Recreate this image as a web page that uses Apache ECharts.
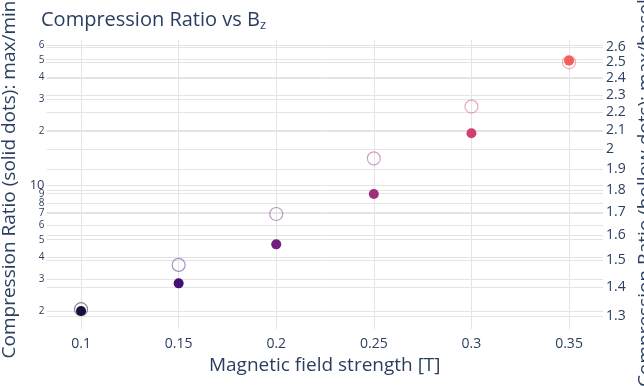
<!DOCTYPE html>
<html>
<head>
<meta charset="utf-8">
<script src="https://cdn.jsdelivr.net/npm/echarts@6/dist/echarts.min.js"></script>
<style>
  html, body { margin: 0; padding: 0; background: #ffffff; }
  #chart { width: 644px; height: 386px; }
</style>
</head>
<body>
<div id="chart"></div>
<script>
// Magnetic field strength (T)
const fieldStrength = [0.1, 0.15, 0.2, 0.25, 0.3, 0.35];
// Compression ratio max/min (solid dots, left log axis)
const ratioMaxMin = [2.01, 2.86, 4.71, 8.97, 19.5, 49.4];
// Compression ratio max/baseline (hollow dots, right log axis)
const ratioMaxBaseline = [1.323, 1.483, 1.691, 1.952, 2.231, 2.501];
// Marker colours per field strength (magma)
const pointColors = ['#180f3d', '#440f76', '#721f81', '#9e2f7f', '#cd4071', '#f1605d'];
const ringColors = ['rgba(24,15,61,0.5)', 'rgba(68,15,118,0.45)', 'rgba(114,31,129,0.45)',
                    'rgba(158,47,127,0.45)', 'rgba(205,64,113,0.45)', 'rgba(241,96,93,0.5)'];

// Tick values
const xTicks = [0.1, 0.15, 0.2, 0.25, 0.3, 0.35];
const leftTicks = [2, 3, 4, 5, 6, 7, 8, 9, 10, 20, 30, 40, 50, 60];
const rightTicks = [1.3, 1.4, 1.5, 1.6, 1.7, 1.8, 1.9, 2.0, 2.1, 2.2, 2.3, 2.4, 2.5, 2.6];

const textColor = '#2a3f5f';
const gridColor = '#e4e4e4';
const fontFamily = '"Open Sans", sans-serif';

const chart = echarts.init(document.getElementById('chart'), null, { renderer: 'canvas' });

chart.setOption({
  backgroundColor: '#ffffff',
  animation: false,
  textStyle: { fontFamily: fontFamily, color: textColor },
  title: {
    text: '{a|Compression Ratio vs B}{s|z}',
    left: 36,
    top: 3,
    textStyle: {
      fontWeight: 'normal',
      rich: {
        a: { fontSize: 20, fontWeight: 'normal', color: textColor, fontFamily: fontFamily },
        s: { fontSize: 13, fontWeight: 'normal', color: textColor, fontFamily: fontFamily, padding: [11, 0, 0, 0] }
      }
    }
  },
  grid: {
    left: 46.5,
    right: 41,
    top: 40,
    bottom: 57,
    containLabel: false,
    outerBoundsMode: 'none'
  },
  xAxis: {
    type: 'value',
    min: 0.0823,
    max: 0.3674,
    name: 'Magnetic field strength [T]',
    nameLocation: 'middle',
    nameGap: 17,
    nameTextStyle: { fontSize: 19, color: textColor, fontFamily: fontFamily },
    axisLine: { show: false },
    axisTick: { show: false, customValues: xTicks },
    axisLabel: {
      customValues: xTicks,
      fontSize: 14,
      color: textColor,
      margin: 8,
      hideOverlap: false,
      formatter: v => String(Math.round(v * 100) / 100)
    },
    splitLine: { show: true, lineStyle: { color: gridColor, width: 1 } }
  },
  yAxis: [
    {
      type: 'log',
      logBase: 10,
      min: 1.595,
      max: 64.3,
      position: 'left',
      name: 'Compression Ratio (solid dots): max/min',
      nameLocation: 'middle',
      nameRotate: 90,
      nameGap: 23,
      nameTextStyle: { fontSize: 19, color: textColor, fontFamily: fontFamily, padding: [0, 0, 0, 10] },
      axisLine: { show: false },
      axisTick: { show: false, customValues: leftTicks },
      axisLabel: {
        customValues: leftTicks,
        fontSize: 10,
        color: textColor,
        margin: 2,
        hideOverlap: false,
        showMinLabel: true,
        showMaxLabel: true,
        formatter: v => {
          const n = Math.round(v);
          if (n === 10) return '{b|10}';
          return String(n > 10 ? n / 10 : n);
        },
        rich: { b: { fontSize: 13, color: textColor, fontFamily: fontFamily } }
      },
      splitLine: { show: true, lineStyle: { color: gridColor, width: 1 } }
    },
    {
      type: 'log',
      logBase: 10,
      min: 1.257,
      max: 2.649,
      position: 'right',
      name: 'Compression Ratio (hollow dots): max/baseline',
      nameLocation: 'middle',
      nameRotate: 90,
      nameGap: 22,
      nameTextStyle: { fontSize: 19, color: textColor, fontFamily: fontFamily, padding: [0, 0, 0, 10] },
      axisLine: { show: false },
      axisTick: { show: false, customValues: rightTicks },
      axisLabel: {
        customValues: rightTicks,
        fontSize: 14,
        color: textColor,
        margin: 3,
        hideOverlap: false,
        formatter: v => String(Math.round(v * 10) / 10)
      },
      splitLine: { show: true, lineStyle: { color: gridColor, width: 1 } }
    }
  ],
  series: [
    {
      type: 'scatter',
      yAxisIndex: 1,
      symbol: 'circle',
      symbolSize: 13,
      z: 2,
      itemStyle: { opacity: 1 },
      data: fieldStrength.map((x, i) => ({
        value: [x, ratioMaxBaseline[i]],
        itemStyle: { color: 'rgba(255,255,255,0)', borderColor: ringColors[i], borderWidth: 1.2, opacity: 1 }
      }))
    },
    {
      type: 'scatter',
      yAxisIndex: 0,
      symbol: 'circle',
      symbolSize: 10,
      z: 3,
      itemStyle: { opacity: 1 },
      data: fieldStrength.map((x, i) => ({
        value: [x, ratioMaxMin[i]],
        itemStyle: { color: pointColors[i], opacity: 1 }
      }))
    }
  ]
});
</script>
</body>
</html>
